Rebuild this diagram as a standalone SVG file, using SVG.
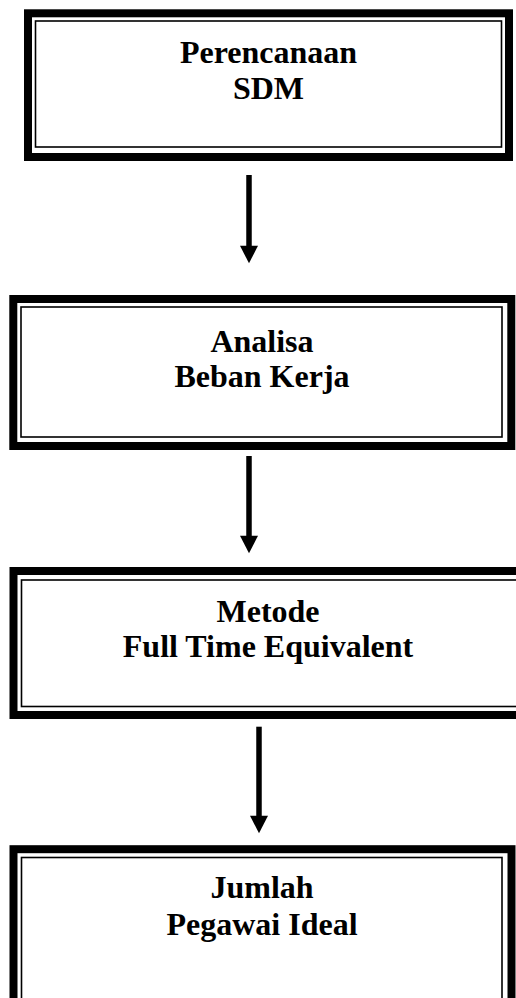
<svg xmlns="http://www.w3.org/2000/svg" width="516" height="998" viewBox="0 0 516 998">
<style>
.thick{fill:none;stroke:#000;stroke-width:8}
.thin{fill:none;stroke:#000;stroke-width:1.6}
.lbl{font-family:"Liberation Serif","Times New Roman",serif;font-weight:bold;font-size:32px;fill:#000;text-anchor:middle}
.shaft{stroke:#000;stroke-width:5.5}
</style>
<defs>
<marker id="ah" markerUnits="userSpaceOnUse" markerWidth="18" markerHeight="18" refX="0.5" refY="9" orient="auto" overflow="visible">
<path d="M0,0 L17.5,9 L0,18 Z" fill="#000"/>
</marker>
</defs>
<rect width="516" height="998" fill="#fff"/>
<g id="node1">
<rect class="thick" x="28" y="13.3" width="481" height="143.7"/>
<rect class="thin" x="35.5" y="21" width="466" height="126"/>
<text class="lbl" x="268.5" y="63">Perencanaan</text>
<text class="lbl" x="268.5" y="98.5">SDM</text>
</g>
<g id="node2">
<rect class="thick" x="13.3" y="299" width="498" height="147"/>
<rect class="thin" x="21" y="307" width="481" height="130"/>
<text class="lbl" x="262" y="351.7">Analisa</text>
<text class="lbl" x="262" y="386.7">Beban Kerja</text>
</g>
<g id="node3">
<rect class="thick" x="13.5" y="571" width="520" height="144"/>
<rect class="thin" x="21.5" y="580" width="520" height="126.5"/>
<text class="lbl" x="268" y="621.7">Metode</text>
<text class="lbl" x="268" y="656.7">Full Time Equivalent</text>
</g>
<g id="node4">
<rect class="thick" x="13.5" y="849.2" width="498" height="170"/>
<rect class="thin" x="21.5" y="857.5" width="480.5" height="160"/>
<text class="lbl" x="262" y="898.3">Jumlah</text>
<text class="lbl" x="262" y="935">Pegawai Ideal</text>
</g>
<g id="connectors">
<line class="shaft" x1="249" y1="175" x2="249" y2="246.3" marker-end="url(#ah)"/>
<line class="shaft" x1="249" y1="456" x2="249" y2="536.3" marker-end="url(#ah)"/>
<line class="shaft" x1="259" y1="726.7" x2="259" y2="816.3" marker-end="url(#ah)"/>
</g>
</svg>
